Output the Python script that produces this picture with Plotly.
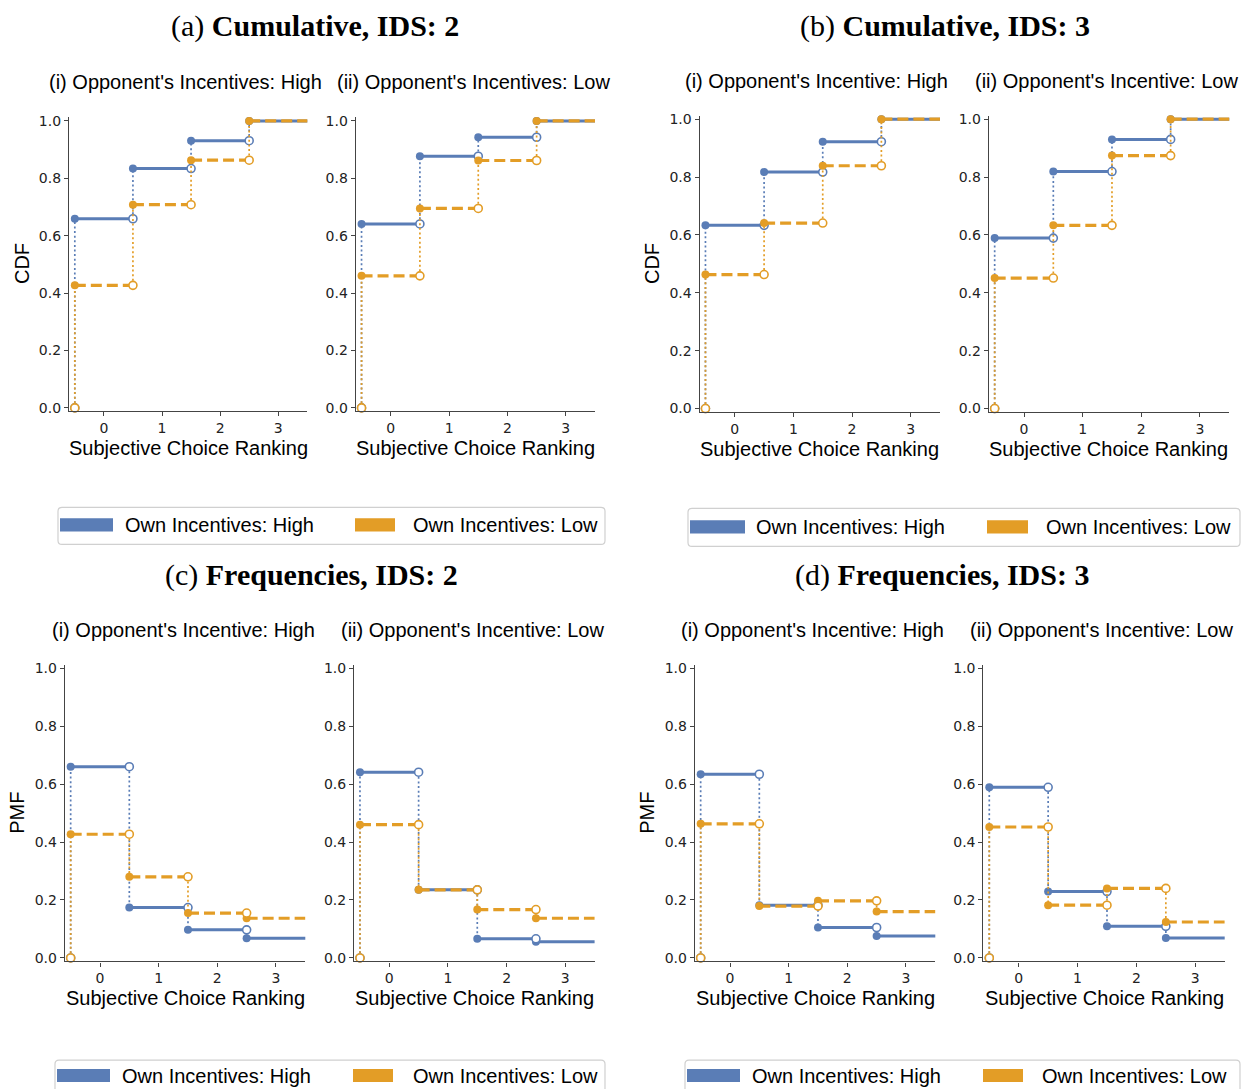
import plotly.graph_objects as go

W, H = 1243, 1089

# ---------------- data ----------------
ranks = [0, 1, 2, 3]
x_ticks = [0, 1, 2, 3]
y_ticks = [0.0, 0.2, 0.4, 0.6, 0.8, 1.0]

# Cumulative (CDF)
cdf_ids2_opp_high_own_high = [0.659, 0.834, 0.931, 1.0]
cdf_ids2_opp_high_own_low = [0.427, 0.708, 0.863, 1.0]
cdf_ids2_opp_low_own_high = [0.641, 0.877, 0.943, 1.0]
cdf_ids2_opp_low_own_low = [0.460, 0.695, 0.862, 1.0]
cdf_ids3_opp_high_own_high = [0.633, 0.817, 0.922, 1.0]
cdf_ids3_opp_high_own_low = [0.463, 0.641, 0.839, 1.0]
cdf_ids3_opp_low_own_high = [0.589, 0.819, 0.930, 1.0]
cdf_ids3_opp_low_own_low = [0.451, 0.633, 0.874, 1.0]

# Frequencies (PMF)
pmf_ids2_opp_high_own_high = [0.660, 0.174, 0.097, 0.068]
pmf_ids2_opp_high_own_low = [0.427, 0.280, 0.155, 0.137]
pmf_ids2_opp_low_own_high = [0.641, 0.235, 0.066, 0.056]
pmf_ids2_opp_low_own_low = [0.460, 0.235, 0.167, 0.137]
pmf_ids3_opp_high_own_high = [0.634, 0.182, 0.105, 0.076]
pmf_ids3_opp_high_own_low = [0.463, 0.179, 0.197, 0.160]
pmf_ids3_opp_low_own_high = [0.589, 0.229, 0.109, 0.069]
pmf_ids3_opp_low_own_low = [0.452, 0.182, 0.240, 0.124]

series_names = ["Own Incentives: High", "Own Incentives: Low"]
group_titles = ["(a) <b>Cumulative, IDS: 2</b>", "(b) <b>Cumulative, IDS: 3</b>",
                "(c) <b>Frequencies, IDS: 2</b>", "(d) <b>Frequencies, IDS: 3</b>"]
panel_titles = [
    "(i) Opponent's Incentives: High", "(ii) Opponent's Incentives: Low",
    "(i) Opponent's Incentive: High", "(ii) Opponent's Incentive: Low",
    "(i) Opponent's Incentive: High", "(ii) Opponent's Incentive: Low",
    "(i) Opponent's Incentive: High", "(ii) Opponent's Incentive: Low",
]
x_label = "Subjective Choice Ranking"
y_labels = ["CDF", "PMF"]

panels_data = [
    (cdf_ids2_opp_high_own_high, cdf_ids2_opp_high_own_low),
    (cdf_ids2_opp_low_own_high, cdf_ids2_opp_low_own_low),
    (cdf_ids3_opp_high_own_high, cdf_ids3_opp_high_own_low),
    (cdf_ids3_opp_low_own_high, cdf_ids3_opp_low_own_low),
    (pmf_ids2_opp_high_own_high, pmf_ids2_opp_high_own_low),
    (pmf_ids2_opp_low_own_high, pmf_ids2_opp_low_own_low),
    (pmf_ids3_opp_high_own_high, pmf_ids3_opp_high_own_low),
    (pmf_ids3_opp_low_own_high, pmf_ids3_opp_low_own_low),
]

# ---------------- styles / layout ----------------
BLUE = "#5A7DB6"
ORANGE = "#E39D26"
colors = [BLUE, ORANGE]
hdash = ["solid", "11px,5px"]
hwidth = [3.0, 3.2]
AXC = "#444444"


def px(x):
    return x / W


def adj(y, extra=2.0):
    # compensate the small vertical drift seen in the rendered page
    return 27 + (y - 33) / 0.9905 + extra


def py(y, extra=2.0):
    return 1 - adj(y, extra) / H


# panel domains in pixels: (x0, x1, ytop, ybottom)
domains = [
    (69.0, 307.3, 116.6, 410.1),
    (355.7, 595.0, 116.6, 410.1),
    (699.6, 940.0, 114.8, 410.8),
    (988.8, 1229.3, 114.8, 410.8),
    (64.8, 305.3, 663.2, 959.5),
    (354.1, 594.6, 663.2, 959.5),
    (694.8, 935.3, 663.2, 959.5),
    (983.4, 1224.7, 663.2, 959.5),
]
XR = [-0.6, 3.5]
YR = [-0.012, 1.012]

fig = go.Figure()

for p, (vals_pair, dom) in enumerate(zip(panels_data, domains)):
    n = p + 1
    xa = "x" if n == 1 else f"x{n}"
    ya = "y" if n == 1 else f"y{n}"
    for s, vals in enumerate(vals_pair):
        c = colors[s]
        # horizontal steps
        hx, hy = [], []
        for k, v in zip(ranks, vals):
            right = k + 0.5 if k < ranks[-1] else k + 1.0
            hx += [k - 0.5, right, None]
            hy += [v, v, None]
        fig.add_trace(go.Scatter(x=hx, y=hy, mode="lines", xaxis=xa, yaxis=ya,
                                 line=dict(color=c, width=hwidth[s], dash=hdash[s]),
                                 showlegend=False, hoverinfo="skip"))
        # vertical dotted jumps
        vx, vy = [], []
        prev = 0.0
        for k, v in zip(ranks, vals):
            vx += [k - 0.5, k - 0.5, None]
            vy += [prev, v, None]
            prev = v
        fig.add_trace(go.Scatter(x=vx, y=vy, mode="lines", xaxis=xa, yaxis=ya,
                                 line=dict(color=c, width=1.7, dash="2px,2.6px"),
                                 showlegend=False, hoverinfo="skip"))
        # filled markers at step starts
        fig.add_trace(go.Scatter(x=[k - 0.5 for k in ranks], y=vals, mode="markers",
                                 xaxis=xa, yaxis=ya, cliponaxis=False,
                                 marker=dict(color=c, size=8, line=dict(width=0)),
                                 showlegend=False, name=series_names[s]))
        # open markers at step ends (and the origin of the first jump)
        ox = [ranks[0] - 0.5] + [k + 0.5 for k in ranks[:-1]]
        oy = [0.0] + list(vals[:-1])
        fig.add_trace(go.Scatter(x=ox, y=oy, mode="markers", xaxis=xa, yaxis=ya,
                                 cliponaxis=False,
                                 marker=dict(color="white", size=8,
                                             line=dict(color=c, width=1.6)),
                                 showlegend=False, name=series_names[s]))

    x0, x1, yt, yb = dom
    axis_common = dict(showgrid=False, zeroline=False, showline=True, linecolor=AXC,
                       linewidth=1.2, ticks="outside", ticklen=4, tickwidth=1.1,
                       tickcolor=AXC, tickfont=dict(family="DejaVu Sans", size=14, color="#222"))
    fig.layout[("xaxis" if n == 1 else f"xaxis{n}")] = dict(
        domain=[px(x0), px(x1)], range=XR, anchor=ya, tickvals=x_ticks, **axis_common)
    fig.layout[("yaxis" if n == 1 else f"yaxis{n}")] = dict(
        domain=[py(yb), py(yt)], range=YR, anchor=xa, tickvals=y_ticks,
        tickformat=".1f", **axis_common)

ann = []
# group titles
for i, (t, (cx, cy)) in enumerate(zip(group_titles, [(315, 27), (945, 27), (311.5, 574), (941.5, 574)])):
    ann.append(dict(text=t, x=px(cx), y=py(cy, 0.5 if i < 2 else 2.0), xref="paper", yref="paper",
                    xanchor="center", yanchor="middle", showarrow=False,
                    font=dict(family="Liberation Serif", size=30, color="black")))
# panel titles
pt_pos = [(185.5, 81), (473, 81), (816.5, 80), (1106.5, 80),
          (183, 628), (472.5, 628), (812.5, 628), (1101.5, 628)]
for t, (cx, cy) in zip(panel_titles, pt_pos):
    ann.append(dict(text=t, x=px(cx), y=py(cy), xref="paper", yref="paper",
                    xanchor="center", yanchor="middle", showarrow=False,
                    font=dict(family="Liberation Sans", size=20, color="black")))
# x axis labels
xl_pos = [(188.5, 447), (475.5, 447), (819.5, 448), (1108.5, 448),
          (185.5, 996), (474.5, 996), (815.5, 996), (1104.5, 996)]
for cx, cy in xl_pos:
    ann.append(dict(text=x_label, x=px(cx), y=py(cy), xref="paper", yref="paper",
                    xanchor="center", yanchor="middle", showarrow=False, borderpad=0,
                    font=dict(family="Liberation Sans", size=20, color="black")))
# y axis labels
for t, (cx, cy) in zip([y_labels[0], y_labels[0], y_labels[1], y_labels[1]],
                       [(22, 263), (652, 263), (17, 811), (647, 811)]):
    ann.append(dict(text=t, x=px(cx), y=py(cy), xref="paper", yref="paper",
                    xanchor="center", yanchor="middle", showarrow=False, textangle=-90,
                    font=dict(family="Liberation Sans", size=20, color="black")))

# legends (one per figure group)
shapes = []
leg_specs = [
    # box x0,x1,y0,y1, blue patch x0,x1, orange patch x0,x1, patch y0,y1, text x high, text x low, text y
    (58, 605, 506, 543, 60, 113, 355, 395, 517, 530, 123, 411, 524),
    (688, 1240, 507, 545, 690, 745, 987, 1028, 519, 532, 754, 1044, 526),
    (55, 605, 1058, 1100, 57, 110, 353, 393, 1067, 1080, 120, 411, 1074),
    (685, 1240, 1058, 1100, 687, 740, 983, 1023, 1067, 1080, 750, 1040, 1074),
]


def rounded_rect(x0, x1, y0, y1, r=4):
    X0, X1 = px(x0), px(x1)
    Y0, Y1 = py(y1), py(y0)
    rx, ry = r / W, r / H
    return (f"M {X0+rx},{Y0} L {X1-rx},{Y0} Q {X1},{Y0} {X1},{Y0+ry} "
            f"L {X1},{Y1-ry} Q {X1},{Y1} {X1-rx},{Y1} L {X0+rx},{Y1} "
            f"Q {X0},{Y1} {X0},{Y1-ry} L {X0},{Y0+ry} Q {X0},{Y0} {X0+rx},{Y0} Z")


for (bx0, bx1, by0, by1, b0, b1, o0, o1, pt, pb, tx1, tx2, ty) in leg_specs:
    shapes.append(dict(type="path", path=rounded_rect(bx0, bx1, by0, by1),
                       xref="paper", yref="paper", fillcolor="rgba(255,255,255,0.8)",
                       line=dict(color="#d0d0d0", width=1.2), layer="above"))
    shapes.append(dict(type="rect", x0=px(b0), x1=px(b1), y0=py(pb), y1=py(pt),
                       xref="paper", yref="paper", fillcolor=BLUE,
                       line=dict(width=0), layer="above"))
    shapes.append(dict(type="rect", x0=px(o0), x1=px(o1), y0=py(pb), y1=py(pt),
                       xref="paper", yref="paper", fillcolor=ORANGE,
                       line=dict(width=0), layer="above"))
    for t, tx in zip(series_names, [tx1, tx2]):
        ann.append(dict(text=t, x=px(tx), y=py(ty), xref="paper", yref="paper",
                        xanchor="left", yanchor="middle", showarrow=False,
                        font=dict(family="Liberation Sans", size=20, color="black")))

fig.update_layout(
    width=W, height=H, margin=dict(l=0, r=0, t=0, b=0),
    paper_bgcolor="white", plot_bgcolor="white",
    annotations=ann, shapes=shapes, showlegend=False,
)

fig.write_html("out.html")
